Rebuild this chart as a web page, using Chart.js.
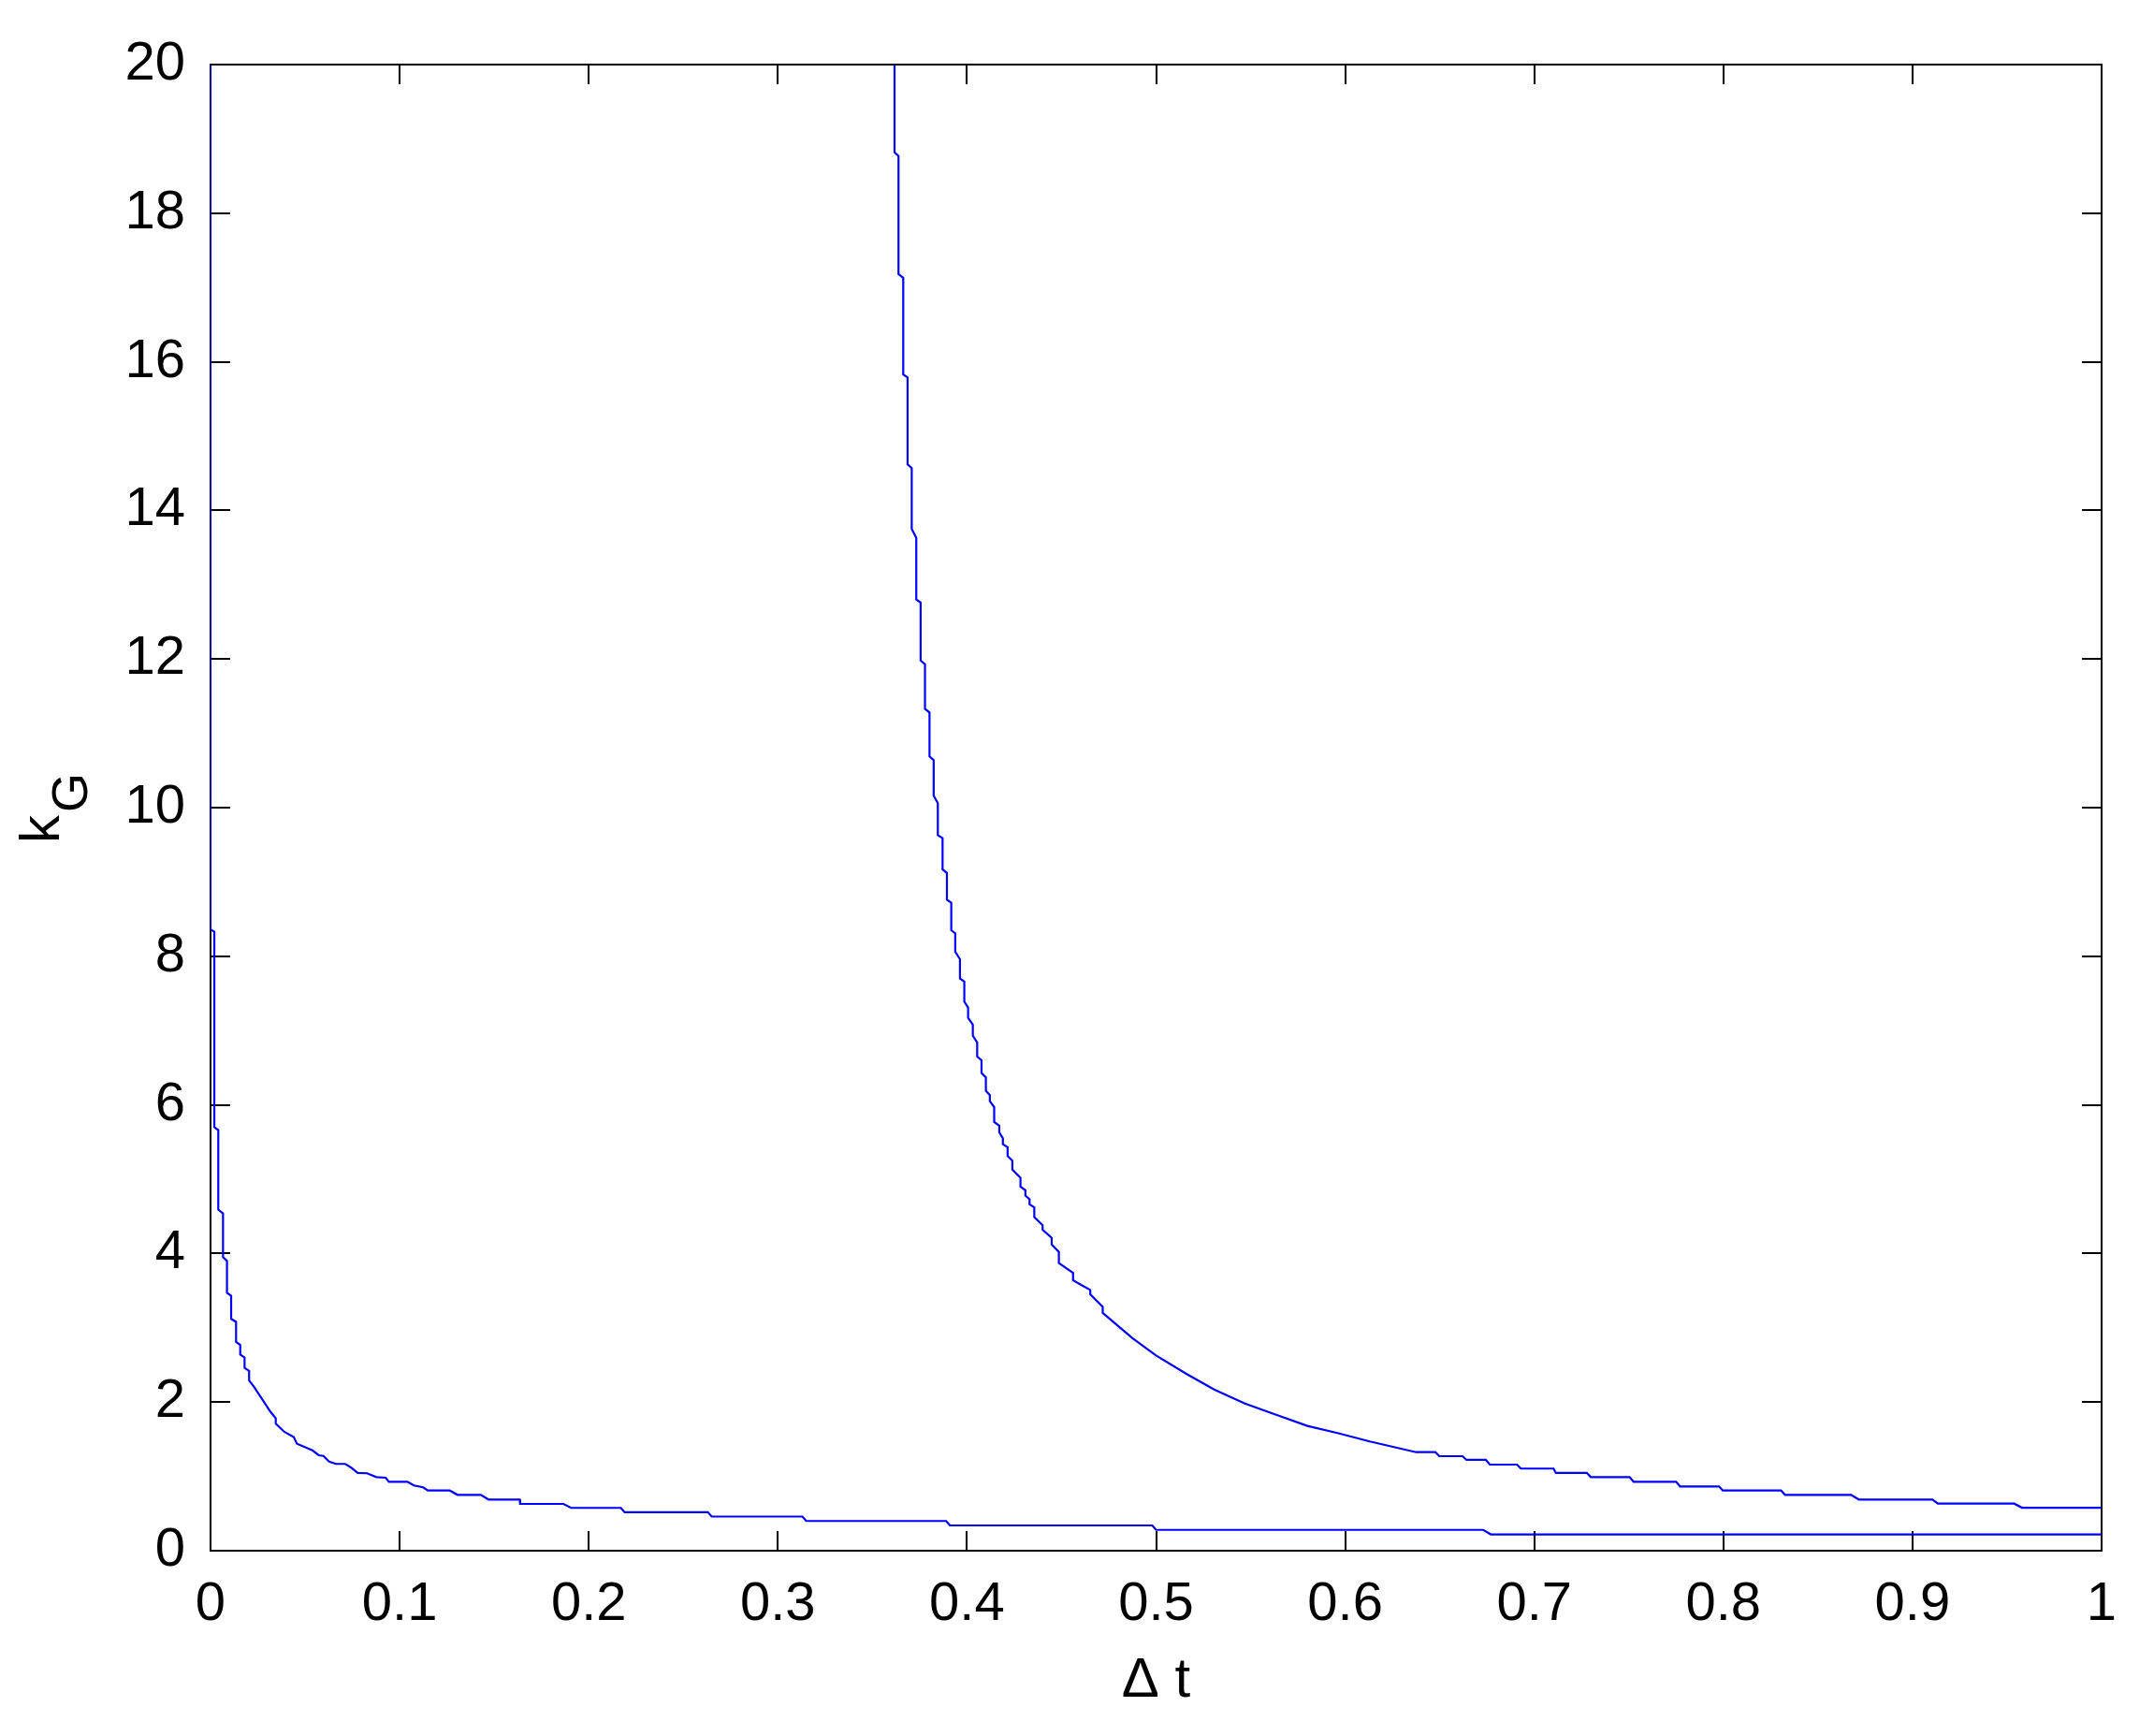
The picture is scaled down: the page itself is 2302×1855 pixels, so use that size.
<!DOCTYPE html>
<html>
<head>
<meta charset="utf-8">
<title>kG vs Δt</title>
<script src="https://cdn.jsdelivr.net/npm/chart.js@4.4.1/dist/chart.umd.min.js"></script>
<style>
  html, body { margin: 0; padding: 0; background: #fff; }
  #chart { display: block; }
</style>
</head>
<body>
<canvas id="chart" width="2302" height="1855"></canvas>
<script>
// lower branch, corner points (starts off the top of the axes)
const lowerX = [0, 0, 0.002, 0.002, 0.0041, 0.0041, 0.0066, 0.0066, 0.0087, 0.0087,
  0.0109, 0.0109, 0.0135, 0.0135, 0.0157, 0.0157, 0.018, 0.018, 0.0204, 0.0204,
  0.0229, 0.0317, 0.0345, 0.0345, 0.039, 0.044, 0.0457, 0.0539, 0.0572, 0.0597,
  0.0627, 0.0663, 0.0712, 0.0745, 0.0778, 0.0827, 0.0877, 0.0926, 0.0943, 0.1042,
  0.1075, 0.1124, 0.1149, 0.1265, 0.1306, 0.1429, 0.147, 0.1635, 0.1637, 0.1866,
  0.1907, 0.217, 0.219, 0.263, 0.265, 0.313, 0.315, 0.389, 0.391, 0.498,
  0.5, 0.673, 0.677, 1]
const lowerY = [25, 8.36, 8.33, 5.70, 5.66, 4.59, 4.54, 3.95, 3.90, 3.47,
  3.43, 3.12, 3.08, 2.81, 2.77, 2.64, 2.60, 2.46, 2.42, 2.29,
  2.21, 1.87, 1.78, 1.71, 1.60, 1.53, 1.44, 1.35, 1.285, 1.276,
  1.20, 1.168, 1.168, 1.117, 1.046, 1.042, 0.991, 0.983, 0.928, 0.928,
  0.878, 0.853, 0.81, 0.81, 0.752, 0.752, 0.689, 0.689, 0.630, 0.630,
  0.576, 0.576, 0.518, 0.518, 0.46, 0.46, 0.40, 0.40, 0.34, 0.34,
  0.28, 0.28, 0.22, 0.22]

// upper branch
const upperX = [0.3617, 0.3617, 0.3638, 0.3638, 0.3663, 0.3663, 0.3686, 0.3686, 0.3708, 0.3708,
  0.3732, 0.3732, 0.3755, 0.3755, 0.3778, 0.3778, 0.3802, 0.3802, 0.3824, 0.3824,
  0.3846, 0.3846, 0.3871, 0.3871, 0.3894, 0.3894, 0.3917, 0.3917, 0.3938, 0.3938,
  0.3963, 0.3963, 0.3986, 0.3986, 0.4006, 0.4006, 0.4031, 0.4031, 0.4054, 0.4054,
  0.4077, 0.4077, 0.41, 0.41, 0.4121, 0.4121, 0.4144, 0.4144, 0.4171, 0.4171,
  0.419, 0.419, 0.4215, 0.4215, 0.424, 0.424, 0.4283, 0.4283, 0.4309, 0.4309,
  0.4331, 0.4331, 0.4356, 0.4356, 0.44, 0.44, 0.4448, 0.4448, 0.4486, 0.4486,
  0.4561, 0.4561, 0.4595, 0.4652, 0.4652, 0.4718, 0.4718, 0.4875, 0.4998, 0.516,
  0.5307, 0.547, 0.5635, 0.58, 0.5964, 0.613, 0.6375, 0.6477, 0.6498, 0.6621,
  0.6641, 0.6744, 0.6765, 0.6909, 0.6929, 0.7102, 0.7114, 0.7278, 0.7299, 0.7504,
  0.7525, 0.775, 0.7771, 0.7977, 0.7997, 0.8305, 0.8326, 0.8675, 0.8716, 0.9106,
  0.9134, 0.9538, 0.9579, 1]
const upperY = [25, 18.82, 18.77, 17.18, 17.13, 15.83, 15.79, 14.62, 14.57, 13.75,
  13.63, 12.80, 12.76, 11.98, 11.93, 11.33, 11.28, 10.69, 10.64, 10.16,
  10.06, 9.63, 9.59, 9.17, 9.12, 8.76, 8.72, 8.35, 8.31, 8.06,
  7.96, 7.70, 7.66, 7.39, 7.31, 7.17, 7.08, 6.93, 6.84, 6.65,
  6.60, 6.43, 6.37, 6.19, 6.13, 6.05, 5.97, 5.77, 5.72, 5.63,
  5.55, 5.47, 5.43, 5.31, 5.25, 5.13, 5.02, 4.90, 4.85, 4.78,
  4.73, 4.66, 4.62, 4.49, 4.38, 4.32, 4.21, 4.12, 4.02, 3.87,
  3.74, 3.64, 3.59, 3.51, 3.45, 3.28, 3.20, 2.86, 2.63, 2.38,
  2.17, 1.98, 1.83, 1.68, 1.58, 1.47, 1.326, 1.326, 1.272, 1.272,
  1.222, 1.222, 1.159, 1.159, 1.105, 1.105, 1.046, 1.046, 0.991, 0.991,
  0.928, 0.928, 0.865, 0.865, 0.81, 0.81, 0.752, 0.752, 0.689, 0.689,
  0.634, 0.634, 0.579, 0.579]

const xTicks = [0, 0.1, 0.2, 0.3, 0.4, 0.5, 0.6, 0.7, 0.8, 0.9, 1]
const yTicks = [0, 2, 4, 6, 8, 10, 12, 14, 16, 18, 20]

const FONT = "'Liberation Sans', Arial, Helvetica, sans-serif"
const toPoints = (xs, ys) => xs.map((x, i) => ({ x: x, y: ys[i] }))

// matlab style box with inward ticks on all four sides
const boxPlugin = {
  id: 'box',
  beforeDatasetsDraw(chart) {
    const { ctx, chartArea: a, scales } = chart
    const len = 21
    ctx.save()
    ctx.strokeStyle = '#000'
    ctx.lineWidth = 2
    ctx.strokeRect(a.left, a.top, a.right - a.left, a.bottom - a.top)
    ctx.beginPath()
    xTicks.forEach(v => {
      const px = Math.round(scales.x.getPixelForValue(v))
      ctx.moveTo(px, a.bottom); ctx.lineTo(px, a.bottom - len)
      ctx.moveTo(px, a.top); ctx.lineTo(px, a.top + len)
    })
    yTicks.forEach(v => {
      const py = Math.round(scales.y.getPixelForValue(v))
      ctx.moveTo(a.left, py); ctx.lineTo(a.left + len, py)
      ctx.moveTo(a.right, py); ctx.lineTo(a.right - len, py)
    })
    ctx.stroke()
    ctx.restore()
  },
  afterDraw(chart) {
    // y label k_G with a subscript, rotated
    const { ctx, chartArea: a } = chart
    const cy = (a.top + a.bottom) / 2
    ctx.save()
    ctx.translate(63, cy + 38)
    ctx.rotate(-Math.PI / 2)
    ctx.fillStyle = '#000'
    ctx.textBaseline = 'alphabetic'
    ctx.font = '60px ' + FONT
    ctx.fillText('k', 0, 0)
    const kw = ctx.measureText('k').width
    ctx.font = '54px ' + FONT
    ctx.fillText('G', kw + 3, 30)
    ctx.restore()
  }
}

const tickFont = { family: FONT, size: 58 }

new Chart(document.getElementById('chart'), {
  type: 'line',
  data: {
    datasets: [
      { data: toPoints(lowerX, lowerY), borderColor: '#0000ff', borderWidth: 2.2, pointRadius: 0, tension: 0, fill: false },
      { data: toPoints(upperX, upperY), borderColor: '#0000ff', borderWidth: 2.2, pointRadius: 0, tension: 0, fill: false }
    ]
  },
  options: {
    responsive: false,
    animation: false,
    devicePixelRatio: 1,
    layout: { padding: { left: 0, right: 56, top: 69, bottom: 0 } },
    plugins: { legend: { display: false }, tooltip: { enabled: false } },
    scales: {
      x: {
        type: 'linear',
        min: 0,
        max: 1,
        afterBuildTicks: s => { s.ticks = xTicks.map(v => ({ value: v })) },
        ticks: { font: tickFont, color: '#000', padding: 15, maxRotation: 0, autoSkip: false,
          callback: v => String(+v.toFixed(1)) },
        grid: { display: false },
        border: { display: false },
        title: { display: true, text: 'Δ t', color: '#000', font: { family: FONT, size: 60 }, padding: { top: 0, bottom: 23 } },
        afterFit: s => { s.height = 1855 - 1657 }
      },
      y: {
        type: 'linear',
        min: 0,
        max: 20,
        afterBuildTicks: s => { s.ticks = yTicks.map(v => ({ value: v })) },
        ticks: { font: tickFont, color: '#000', padding: 19, autoSkip: false },
        grid: { display: false },
        border: { display: false },
        afterFit: s => { s.width = 225 }
      }
    }
  },
  plugins: [boxPlugin]
})
</script>
</body>
</html>
